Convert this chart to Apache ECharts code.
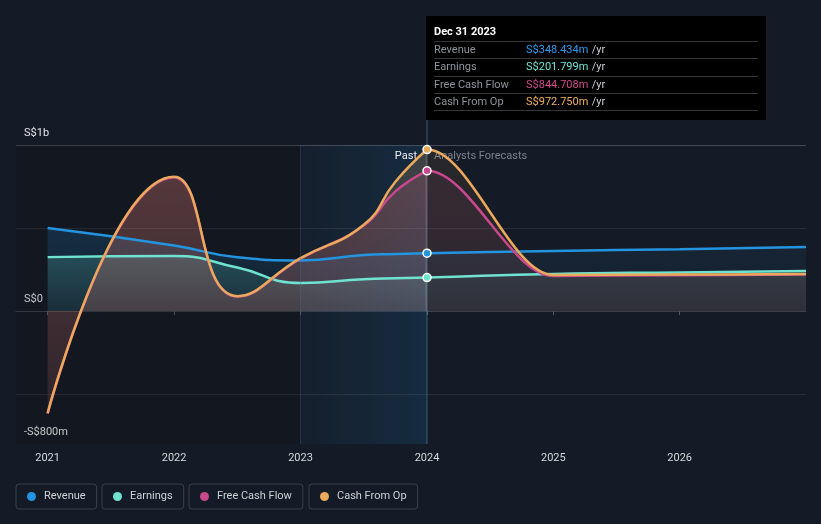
<!DOCTYPE html>
<html><head><meta charset="utf-8">
<script src="https://cdn.jsdelivr.net/npm/echarts@6/dist/echarts.min.js"></script>
<style>html,body{margin:0;padding:0;background:#151b26;}#c{width:821px;height:524px;}</style>
</head><body><div id="c"></div>
<script>
// ---- data ----
const years = [2021, 2022, 2022.5, 2023, 2023.5, 2023.75, 2024, 2025, 2026, 2027];
const revenue = [500, 395, 324, 305, 338, 344, 348.434, 362, 373, 386];
const earnings = [325, 332, 262, 169, 192, 198, 201.799, 224, 233, 241];
const freeCashFlow = [-618, 805, 88, 316, 516, 721, 844.708, 212, 216, 220];
const cashFromOp = [-614, 809, 90, 319, 520, 779, 972.75, 217, 220, 223];
const seriesNames = ['Revenue', 'Earnings', 'Free Cash Flow', 'Cash From Op'];
const xTickYears = [2021, 2022, 2023, 2024, 2025, 2026];
const yTickValues = [-800, 0, 1000];
const yTickLabels = ['-S$800m', 'S$0', 'S$1b'];
const yGridValues = [-500, 0, 500, 1000];
const lastActualYear = 2024;
const shadeStartYear = 2023;
const xMin = 2020.75, xMax = 2027, yMin = -800, yMax = 1000;
const tooltipTitle = 'Dec 31 2023';

// ---- styles ----
const colors = ['#2394df', '#6fe3d0', '#c9478c', '#eaa95c'];
const tipColors = ['#2d9cef', '#72e8d6', '#d14a8f', '#f0b05a'];
const FONT = 'Roboto';
const allData = [revenue, earnings, freeCashFlow, cashFromOp];

function rgba(hex, a) { const n = parseInt(hex.slice(1), 16); return `rgba(${n >> 16 & 255},${n >> 8 & 255},${n & 255},${a})`; }
function vgrad(c, a0, a1) { return new echarts.graphic.LinearGradient(0, 0, 0, 1, [{ offset: 0, color: rgba(c, a0) }, { offset: 1, color: rgba(c, a1) }]); }
function pairs(vals, filt) { return years.map((y, i) => [y, vals[i]]).filter(p => !filt || filt(p[0])); }
const gridColors = yGridValues.map(v => v === 0 ? '#b4b4b4' : (v === yMax ? '#454a54' : '#2a2e37'));

const chart = echarts.init(document.getElementById('c'), null, { renderer: 'canvas' });

const series = [];
// background helper (past darkening + shaded last year + divider)
series.push({
  type: 'line', xAxisIndex: 0, yAxisIndex: 0, data: [[shadeStartYear, 0]], symbol: 'none',
  lineStyle: { opacity: 0 }, silent: true, z: 1,
  markArea: {
    silent: true,
    data: [
      [{ xAxis: xMin, yAxis: yMax, itemStyle: { color: 'rgba(0,0,0,0.14)' } }, { xAxis: shadeStartYear, yAxis: yMin }],
      [{ xAxis: shadeStartYear, yAxis: yMax, itemStyle: { color: new echarts.graphic.LinearGradient(0, 0, 1, 0, [{ offset: 0, color: 'rgba(25,110,170,0.05)' }, { offset: 1, color: 'rgba(25,110,170,0.2)' }]) } }, { xAxis: lastActualYear, yAxis: yMin }]
    ]
  },
  markLine: {
    silent: true, symbol: ['none', 'none'], label: { show: false },
    lineStyle: { color: 'rgba(70,120,160,0.3)', type: 'solid', width: 1 },
    data: [{ xAxis: shadeStartYear }]
  }
});
const alphas = [[0.27, 0.1], [0.13, 0.05]];
[0, 1].forEach(g => {
  allData.forEach((vals, k) => {
    const s = {
      type: 'line', name: seriesNames[k], xAxisIndex: g, yAxisIndex: g,
      data: g === 0 ? pairs(vals, y => y <= lastActualYear) : pairs(vals),
      smooth: true, symbol: 'none', color: colors[k],
      lineStyle: { color: colors[k], width: 2.5 },
      areaStyle: { color: vgrad(colors[k], alphas[g][0], alphas[g][1]) },
      z: 2, silent: true
    };
    if (g === 1 && k >= 2) { s.smooth = 0.34; s.smoothMonotone = 'x'; }
    series.push(s);
  });
});
const idx = years.indexOf(lastActualYear);
allData.forEach((vals, k) => {
  series.push({
    type: 'scatter', xAxisIndex: 0, yAxisIndex: 0, data: [[lastActualYear, vals[idx]]],
    symbolSize: 8, itemStyle: { color: colors[k], borderColor: '#ffffff', borderWidth: 1.5, opacity: 1 },
    z: 6, clip: false, silent: true
  });
});

const xAxisCommon = {
  type: 'value',
  axisLine: { show: true, lineStyle: { color: '#3b4049', width: 1 } },
  axisTick: { show: true, length: 4, lineStyle: { color: '#555a63' } },
  axisLabel: { color: '#d5d8dd', fontSize: 11, fontFamily: FONT, margin: 9, formatter: v => String(Math.round(v)) },
  splitLine: { show: false }
};
const yAxisCommon = {
  type: 'value', min: yMin, max: yMax,
  axisLine: { show: false },
  axisTick: { show: false, customValues: yGridValues },
  splitLine: { show: true, lineStyle: { color: gridColors, width: 1 } }
};

const legendLefts = [16, 102, 189, 309];
const option = {
  backgroundColor: '#151b26',
  animation: false,
  textStyle: { fontFamily: FONT },
  grid: [
    { left: 16, top: 145, width: 411, height: 299 },
    { left: 427, top: 145, width: 379, height: 299 }
  ],
  xAxis: [
    Object.assign({}, xAxisCommon, { gridIndex: 0, min: xMin, max: lastActualYear,
      axisTick: Object.assign({}, xAxisCommon.axisTick, { customValues: xTickYears.filter(y => y < lastActualYear) }),
      axisLabel: Object.assign({}, xAxisCommon.axisLabel, { customValues: xTickYears.filter(y => y < lastActualYear) }) }),
    Object.assign({}, xAxisCommon, { gridIndex: 1, min: lastActualYear, max: xMax,
      axisTick: Object.assign({}, xAxisCommon.axisTick, { customValues: xTickYears.filter(y => y >= lastActualYear) }),
      axisLabel: Object.assign({}, xAxisCommon.axisLabel, { customValues: xTickYears.filter(y => y >= lastActualYear) }) })
  ],
  yAxis: [
    Object.assign({}, yAxisCommon, { gridIndex: 0,
      axisLabel: { show: true, inside: true, customValues: yTickValues, margin: 8, color: '#e2e4e8', fontSize: 11, fontFamily: FONT,
        verticalAlign: 'bottom', padding: [0, 0, 6, 0], formatter: v => yTickLabels[yTickValues.indexOf(v)] } }),
    Object.assign({}, yAxisCommon, { gridIndex: 1, axisLabel: { show: false } })
  ],
  legend: seriesNames.map((n, i) => ({
    data: [n], left: legendLefts[i], top: 484, icon: 'circle', itemWidth: 9, itemHeight: 9,
    padding: [7, 11, 7, 11], borderColor: '#3b404b', borderWidth: 1, borderRadius: 3,
    selectedMode: false,
    textStyle: { color: '#cdd1d8', fontSize: 11, fontFamily: FONT, padding: [0, 0, 0, 3] }
  })),
  series
};
chart.setOption(option);

// ---- overlay (cursor, tooltip, labels) positioned through the axes ----
const px = chart.convertToPixel({ xAxisIndex: 1, yAxisIndex: 1 }, [lastActualYear, 0])[0];
const gTop = chart.convertToPixel({ xAxisIndex: 1, yAxisIndex: 1 }, [lastActualYear, yMax])[1];
const gBot = chart.convertToPixel({ xAxisIndex: 1, yAxisIndex: 1 }, [lastActualYear, yMin])[1];
const tipTop = 16, tipW = 340, tipH = 104, rowH = 17.3;
const g = [];
g.push({ type: 'line', shape: { x1: px, y1: tipTop, x2: px, y2: gBot }, style: { stroke: 'rgba(110,160,205,0.45)', lineWidth: 1 }, z: 4, silent: true });
g.push({ type: 'text', x: px - 10, y: gTop + 11, style: { text: 'Past', fill: '#eceef1', font: `11px ${FONT}`, align: 'right', verticalAlign: 'middle' }, z: 1 });
g.push({ type: 'text', x: px + 7, y: gTop + 11, style: { text: 'Analysts Forecasts', fill: '#7d828b', font: `11px ${FONT}`, align: 'left', verticalAlign: 'middle' }, z: 1 });
g.push({ type: 'rect', shape: { x: px - 1, y: tipTop, width: tipW, height: tipH }, style: { fill: '#000000' }, z: 20 });
g.push({ type: 'text', x: px + 7, y: tipTop + 16, style: { text: tooltipTitle, fill: '#ffffff', font: `bold 11px ${FONT}`, verticalAlign: 'middle' }, z: 21 });
for (let i = 0; i < 5; i++) {
  const yy = Math.round(tipTop + 25 + i * rowH) + 0.5;
  g.push({ type: 'line', shape: { x1: px + 7, y1: yy, x2: px + 331, y2: yy }, style: { stroke: '#353535', lineWidth: 1 }, z: 21 });
}
seriesNames.forEach((n, k) => {
  const yy = tipTop + 34.3 + k * rowH;
  g.push({ type: 'text', x: px + 7, y: yy, style: { text: n, fill: '#8f949c', font: `11px ${FONT}`, verticalAlign: 'middle' }, z: 21 });
  g.push({ type: 'text', x: px + 99, y: yy, style: {
    text: `{v|S$${allData[k][idx].toFixed(3)}m} {u|/yr}`, verticalAlign: 'middle',
    rich: { v: { fill: tipColors[k], font: `11px ${FONT}` }, u: { fill: '#c9ccd1', font: `11px ${FONT}` } }
  }, z: 21 });
});
chart.setOption({ graphic: g });
</script></body></html>
